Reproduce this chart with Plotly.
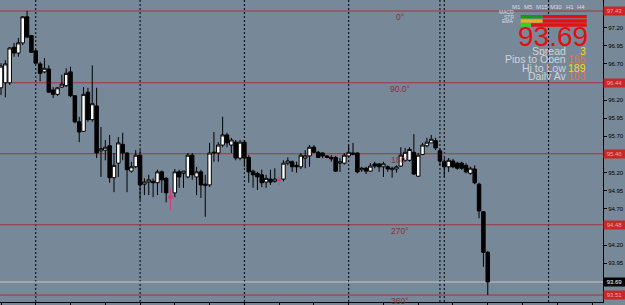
import plotly.graph_objects as go

# ---------------- data (H1 candles) ----------------
opens = [96.37, 96.44, 96.44, 96.93, 96.85, 96.99, 97.35, 97.09, 96.88, 96.70,
         96.59, 96.63, 96.34, 96.28, 96.38, 96.40, 96.59, 96.26, 95.90, 95.77,
         96.31, 95.93, 96.12, 95.50, 95.51, 95.57, 95.13, 95.33, 95.59, 95.47,
         95.22, 95.28, 95.44, 95.04, 95.07, 95.08, 95.06, 95.21, 95.12, 94.84,
         94.92, 95.21, 95.19, 95.14, 95.44, 95.14, 95.21, 95.02, 95.03, 95.47,
         95.47, 95.58, 95.72, 95.58, 95.62, 95.40, 95.62, 95.41, 95.22, 95.19,
         95.17, 95.07, 95.11, 95.08, 95.09, 95.11, 95.33, 95.35, 95.30, 95.28,
         95.40, 95.43, 95.55, 95.48, 95.47, 95.43, 95.41, 95.41, 95.33, 95.33,
         95.43, 95.45, 95.47, 95.24, 95.26, 95.22, 95.32, 95.32, 95.28, 95.28,
         95.24, 95.25, 95.29, 95.37, 95.37, 95.48, 95.15, 95.45, 95.57, 95.61,
         95.64, 95.50, 95.35, 95.28, 95.36, 95.33, 95.33, 95.30, 95.19, 95.25,
         95.04, 94.66, 94.10]
highs = [96.71, 96.75, 96.93, 96.99, 97.06, 97.36, 97.43, 97.10, 96.89, 96.73,
         96.78, 96.68, 96.38, 96.38, 96.55, 96.64, 96.66, 96.27, 95.97, 96.38,
         96.37, 96.68, 96.37, 95.83, 95.65, 95.72, 95.47, 95.69, 95.75, 95.48,
         95.35, 95.51, 95.51, 95.12, 95.17, 95.12, 95.24, 95.23, 95.14, 94.99,
         95.25, 95.24, 95.22, 95.47, 95.47, 95.28, 95.24, 95.17, 95.61, 95.76,
         95.62, 95.97, 95.75, 95.68, 95.65, 95.65, 95.65, 95.44, 95.24, 95.21,
         95.24, 95.17, 95.24, 95.26, 95.14, 95.37, 95.41, 95.37, 95.35, 95.47,
         95.51, 95.58, 95.58, 95.50, 95.48, 95.44, 95.44, 95.43, 95.40, 95.47,
         95.58, 95.61, 95.48, 95.28, 95.28, 95.33, 95.35, 95.33, 95.35, 95.30,
         95.28, 95.30, 95.55, 95.54, 95.55, 95.73, 95.47, 95.61, 95.68, 95.72,
         95.68, 95.53, 95.40, 95.40, 95.39, 95.35, 95.35, 95.33, 95.28, 95.30,
         95.06, 94.67, 94.12]
lows = [96.27, 96.24, 96.41, 96.80, 96.80, 96.96, 97.06, 96.85, 96.70, 96.46,
        96.57, 96.30, 96.23, 96.26, 96.37, 96.38, 96.24, 95.88, 95.62, 95.76,
        95.90, 95.90, 95.40, 95.14, 95.37, 95.06, 94.93, 95.14, 95.37, 94.93,
        95.20, 95.26, 94.82, 94.89, 94.89, 94.86, 94.89, 94.92, 94.79, 94.68,
        94.86, 94.99, 94.99, 95.12, 95.10, 94.89, 94.85, 94.59, 95.00, 95.35,
        95.35, 95.55, 95.55, 95.47, 95.37, 95.37, 95.28, 95.06, 94.99, 94.96,
        95.00, 94.99, 95.03, 95.06, 95.03, 95.08, 95.30, 95.21, 95.20, 95.25,
        95.26, 95.28, 95.47, 95.41, 95.40, 95.40, 95.35, 95.21, 95.21, 95.31,
        95.41, 95.44, 95.19, 95.21, 95.18, 95.21, 95.26, 95.21, 95.14, 95.21,
        95.13, 95.20, 95.28, 95.35, 95.35, 95.17, 95.14, 95.44, 95.55, 95.61,
        95.51, 95.30, 95.14, 95.21, 95.26, 95.24, 95.24, 95.19, 95.17, 95.04,
        94.57, 93.90, 93.51]
closes = [96.67, 96.70, 96.92, 96.85, 96.99, 97.35, 97.07, 96.86, 96.71, 96.57,
          96.64, 96.31, 96.28, 96.37, 96.42, 96.57, 96.26, 95.90, 95.76, 96.28,
          95.93, 96.15, 95.47, 95.53, 95.55, 95.13, 95.30, 95.61, 95.47, 95.24,
          95.28, 95.44, 95.03, 95.07, 95.10, 95.06, 95.21, 95.10, 94.92, 94.88,
          95.21, 95.14, 95.22, 95.44, 95.17, 95.21, 95.03, 95.04, 95.47, 95.48,
          95.58, 95.72, 95.61, 95.65, 95.40, 95.62, 95.40, 95.21, 95.17, 95.14,
          95.06, 95.12, 95.07, 95.11, 95.10, 95.33, 95.36, 95.28, 95.28, 95.44,
          95.43, 95.55, 95.48, 95.41, 95.43, 95.41, 95.39, 95.22, 95.35, 95.44,
          95.48, 95.47, 95.21, 95.26, 95.22, 95.29, 95.29, 95.28, 95.32, 95.25,
          95.26, 95.28, 95.44, 95.48, 95.52, 95.18, 95.44, 95.58, 95.62, 95.66,
          95.54, 95.36, 95.28, 95.37, 95.28, 95.26, 95.26, 95.21, 95.26, 95.06,
          94.67, 94.10, 93.69]
pink_bars = [39, 64]                      # bars drawn in magenta
separators = [8, 32, 56, 80, 101, 102, 126]  # dotted period separators (bar index)

gann_levels = [97.43, 96.44, 95.46, 94.48, 93.51]
gann_labels = ["0°", "90.0°", "180°", "270°", "360°"]
bid_price = 93.69
axis_ticks = [97.20, 96.95, 96.70, 96.20, 95.95, 95.70, 95.20, 94.95, 94.70, 94.20, 93.95]

timeframes = ["M1", "M5", "M15", "M30", "H1", "H4"]
ind_rows = ["MACD", "STR", "EMA"]
info_labels = ["Spread", "Pips to Open", "Hi to Low", "Daily Av"]
info_values = ["3", "165", "189", "103"]
info_colors = ["#ffd21e", "#e8704c", "#ffd21e", "#e8704c"]

# ---------------- geometry ----------------
W, H = 625, 305
PLOT_W, PLOT_H = 603, 302
X_RANGE = [-0.23, 138.52]
Y_RANGE = [93.414, 97.582]

def PX(x):
    return x / PLOT_W

def PY(y):
    return 1 - y / PLOT_H

n = len(opens)
idx = list(range(n))
main = [i for i in idx if i not in pink_bars]

fig = go.Figure()
fig.add_trace(go.Candlestick(
    x=main,
    open=[opens[i] for i in main], high=[highs[i] for i in main],
    low=[lows[i] for i in main], close=[closes[i] for i in main],
    increasing=dict(line=dict(color="black", width=1), fillcolor="white"),
    decreasing=dict(line=dict(color="black", width=1), fillcolor="black"),
    whiskerwidth=0, showlegend=False, hoverinfo="skip"))
fig.add_trace(go.Candlestick(
    x=pink_bars,
    open=[opens[i] for i in pink_bars], high=[highs[i] for i in pink_bars],
    low=[lows[i] for i in pink_bars], close=[closes[i] for i in pink_bars],
    increasing=dict(line=dict(color="#d0407a", width=1), fillcolor="#d0407a"),
    decreasing=dict(line=dict(color="#d0407a", width=1), fillcolor="#d0407a"),
    whiskerwidth=0, showlegend=False, hoverinfo="skip"))

shapes = []
# period separators
for s in separators:
    shapes.append(dict(type="line", xref="x", yref="paper", x0=s, x1=s, y0=0, y1=1,
                       line=dict(color="black", width=1, dash="2px,2px"), layer="below"))
# Gann levels
for lv in gann_levels:
    shapes.append(dict(type="line", xref="paper", yref="y", x0=0, x1=1, y0=lv, y1=lv,
                       line=dict(color="#a0343e", width=1), layer="below"))
# bid line
shapes.append(dict(type="line", xref="paper", yref="y", x0=0, x1=1, y0=bid_price, y1=bid_price,
                   line=dict(color="#c4c8cc", width=1), layer="below"))

# indicator panel bars
row_y = [(15, 18.3), (19.3, 22.7), (23.3, 26.7)]
row_split = [542.7, 542.7, 531]
row_left = ["#139a13", "#e6b020", "#22dd22"]
for (ya, yb), sp, col in zip(row_y, row_split, row_left):
    shapes.append(dict(type="rect", xref="paper", yref="paper", x0=PX(520.7), x1=PX(sp),
                       y0=PY(yb), y1=PY(ya), fillcolor=col, line=dict(width=0)))
    shapes.append(dict(type="rect", xref="paper", yref="paper", x0=PX(sp), x1=PX(586.7),
                       y0=PY(yb), y1=PY(ya), fillcolor="#e01212", line=dict(width=0)))

ann = []
FONT = "Liberation Sans, Arial, sans-serif"
# Gann labels
for lv, lab in zip(gann_levels, gann_labels):
    ann.append(dict(x=PX(400), y=lv, xref="paper", yref="y", text=lab, showarrow=False,
                    xanchor="center", yanchor="middle", yshift=-6,
                    font=dict(family=FONT, size=8.5, color="#8e2e36")))
# right-axis boxes
for lv in gann_levels:
    ann.append(dict(x=PX(614), y=lv, xref="paper", yref="y", text=f"{lv:.2f}", showarrow=False,
                    xanchor="center", yanchor="middle", bgcolor="#c82828", borderpad=1,
                    width=19, height=6, font=dict(family=FONT, size=6, color="#f2a0a0")))
ann.append(dict(x=PX(614), y=bid_price, xref="paper", yref="y", text=f"{bid_price:.2f}", showarrow=False,
                xanchor="center", yanchor="middle", bgcolor="black", borderpad=1,
                width=19, height=6, font=dict(family=FONT, size=6, color="white")))

# timeframe labels
tf_x = [516, 528, 542, 556, 570, 581]
for tx, t in zip(tf_x, timeframes):
    ann.append(dict(x=PX(tx), y=PY(6.5), xref="paper", yref="paper", text=t, showarrow=False,
                    xanchor="center", yanchor="middle",
                    font=dict(family=FONT, size=6, color="#d8dce2")))
for ry, r in zip([11.5, 16.5, 20.5], ind_rows):
    ann.append(dict(x=PX(516), y=PY(ry), xref="paper", yref="paper", text=r, showarrow=False,
                    xanchor="right", yanchor="middle", height=5,
                    font=dict(family=FONT, size=5, color="#d8dce2")))
# big price
ann.append(dict(x=PX(553), y=PY(37), xref="paper", yref="paper", text=f"{bid_price:.2f}",
                showarrow=False, xanchor="center", yanchor="middle", height=21,
                font=dict(family=FONT, size=28, color="#e01010")))
# info rows
for k, (lab, val, col) in enumerate(zip(info_labels, info_values, info_colors)):
    yy = 51 + k * 8.4
    ann.append(dict(x=PX(567.5), y=PY(yy), xref="paper", yref="paper", text=lab, showarrow=False,
                    xanchor="right", yanchor="middle", height=8,
                    font=dict(family=FONT, size=10.5, color="#d4d4d4")))
    ann.append(dict(x=PX(587.5), y=PY(yy), xref="paper", yref="paper", text=val, showarrow=False,
                    xanchor="right", yanchor="middle", height=8,
                    font=dict(family=FONT, size=10.5, color=col)))

fig.update_layout(
    width=W, height=H,
    margin=dict(l=0, r=W - PLOT_W, t=0, b=H - PLOT_H),
    paper_bgcolor="#778899", plot_bgcolor="#778899",
    shapes=shapes, annotations=ann,
    boxgap=0.2, boxgroupgap=0.0,
    xaxis=dict(range=X_RANGE, rangeslider=dict(visible=False), showgrid=False, zeroline=False,
               showline=True, linecolor="black", linewidth=1, ticks="outside", ticklen=3,
               tickcolor="black", tickmode="linear", tick0=0, dtick=8, showticklabels=False),
    yaxis=dict(range=Y_RANGE, side="right", showgrid=False, zeroline=False,
               showline=True, linecolor="black", linewidth=1, ticks="outside", ticklen=3,
               tickcolor="black", tickvals=axis_ticks, ticktext=[f"{v:.2f}" for v in axis_ticks],
               tickfont=dict(family=FONT, size=6, color="black")),
)

fig.write_html("out.html")
